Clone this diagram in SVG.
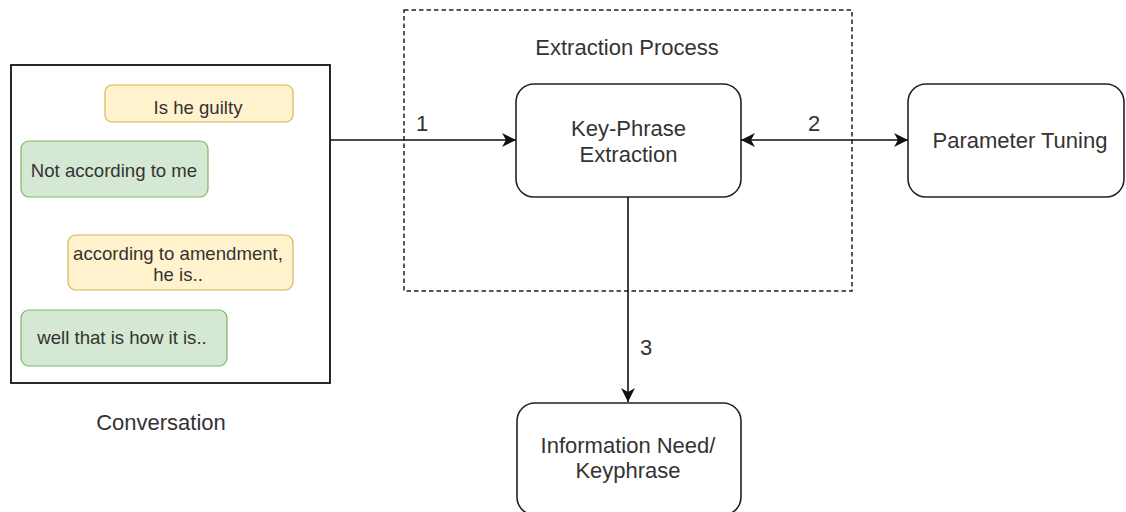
<svg xmlns="http://www.w3.org/2000/svg" width="1126" height="512" viewBox="0 0 1126 512">
<style>
text{font-family:"Liberation Sans",Arial,sans-serif;fill:#333;}
.big{font-size:22px;}
.small{font-size:18.6px;}
.node{fill:#fff;stroke:#222;stroke-width:1.6;}
.yel{fill:#fff2cc;stroke:#d6b656;stroke-width:1.2;}
.grn{fill:#d5e8d4;stroke:#82b366;stroke-width:1.2;}
.edge{fill:none;stroke:#111;stroke-width:1.6;}
</style>
<defs>
<marker id="arr" markerUnits="userSpaceOnUse" markerWidth="16" markerHeight="16" refX="14" refY="7" orient="auto-start-reverse" viewBox="0 0 16 16">
<path d="M0,0 L14,7 L0,14 L4,7 z" fill="#111"/>
</marker>
</defs>
<rect width="1126" height="512" fill="#fff"/>
<g id="extraction-process">
<rect x="404" y="10" width="448" height="281" fill="none" stroke="#222" stroke-width="1.5" stroke-dasharray="4.5 3"/>
<text class="big" x="627" y="55" text-anchor="middle">Extraction Process</text>
</g>
<g id="conversation">
<rect x="11" y="65" width="319" height="318" fill="#fff" stroke="#111" stroke-width="1.8"/>
<text class="big" x="161" y="430" text-anchor="middle">Conversation</text>
</g>
<g id="bubble1">
<rect class="yel" x="105" y="85" width="188" height="37" rx="7"/>
<text class="small" x="198" y="114" text-anchor="middle">Is he guilty</text>
</g>
<g id="bubble2">
<rect class="grn" x="21" y="141" width="187" height="56" rx="8"/>
<text class="small" x="114" y="177" text-anchor="middle">Not according to me</text>
</g>
<g id="bubble3">
<rect class="yel" x="68" y="235" width="225" height="55" rx="8"/>
<text class="small" x="178" y="260" text-anchor="middle">according to amendment,</text>
<text class="small" x="178" y="281" text-anchor="middle">he is..</text>
</g>
<g id="bubble4">
<rect class="grn" x="21" y="310" width="206" height="56" rx="8"/>
<text class="small" x="122" y="344" text-anchor="middle">well that is how it is..</text>
</g>
<g id="key-phrase">
<rect class="node" x="516" y="84" width="225" height="113" rx="18"/>
<text class="big" x="628.5" y="136" text-anchor="middle">Key-Phrase</text>
<text class="big" x="628.5" y="162" text-anchor="middle">Extraction</text>
</g>
<g id="parameter-tuning">
<rect class="node" x="908" y="84" width="216" height="113" rx="18"/>
<text class="big" x="1020" y="148" text-anchor="middle">Parameter Tuning</text>
</g>
<g id="information-need">
<rect class="node" x="517" y="403" width="224" height="112" rx="18"/>
<text class="big" x="628" y="453" text-anchor="middle">Information Need/</text>
<text class="big" x="628" y="478" text-anchor="middle">Keyphrase</text>
</g>
<g id="connectors">
<line class="edge" x1="330" y1="140" x2="516" y2="140" marker-end="url(#arr)"/>
<line class="edge" x1="741" y1="140" x2="908" y2="140" marker-start="url(#arr)" marker-end="url(#arr)"/>
<line class="edge" x1="628" y1="197" x2="628" y2="402" marker-end="url(#arr)"/>
<text class="big" x="422" y="131" text-anchor="middle">1</text>
<text class="big" x="814" y="131" text-anchor="middle">2</text>
<text class="big" x="646" y="355" text-anchor="middle">3</text>
</g>
</svg>
